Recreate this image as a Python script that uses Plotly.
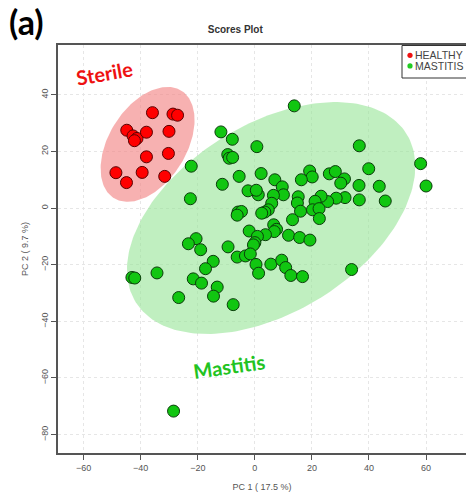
import numpy as np
import plotly.graph_objects as go

# ---- data (PC scores) ----
healthy_pc1 = [-35.9, -28.7, -27.1, -44.9, -42.7, -41.3, -42.2, -38.0, -30.1, -38.0,
               -30.3, -48.7, -39.5, -31.6, -45.0]
healthy_pc2 = [33.7, 33.2, 32.8, 27.5, 25.5, 24.6, 23.8, 26.8, 27.1, 18.1,
               19.3, 12.5, 12.6, 11.2, 9.0]

mastitis_pc1 = [13.8, -11.9, -7.9, 0.7, -9.5, -9.0, -7.8, 36.6, 58.1, 60.0,
                -22.3, 39.9, -5.5, 2.2, -11.4, 7.0, 19.2, 20.1, 16.3, 26.1,
                28.2, 31.4, 30.1, 36.5, 43.6, 45.7, 36.6, 31.6, 28.5, 25.5,
                23.2, 21.1, 15.2, 14.9, 9.6, 10.0, 6.5, 5.9, -2.4, 1.2,
                0.5, -22.6, 4.7, 3.5, 2.4, -5.9, -4.7, -6.2, 16.0, 20.2,
                22.5, 13.2, 22.6, 6.6, 7.6, 6.8, -2.0, 3.7, 0.9, 0.0,
                -0.5, 11.8, 15.7, 19.3, -20.6, -23.3, -9.4, -19.0, -6.2, -3.3,
                -1.6, 0.4, 1.3, 5.6, 9.4, 10.8, 12.6, 16.7, 33.9, -14.6,
                -17.3, -34.3, -43.1, -42.1, -21.6, -18.7, -13.2, -14.5, -26.7, -7.6,
                -28.5]
mastitis_pc2 = [36.1, 26.9, 24.3, 21.7, 18.9, 17.6, 17.9, 22.0, 15.7, 7.8,
                14.8, 13.9, 11.2, 12.2, 8.4, 10.0, 13.1, 11.0, 10.0, 12.1,
                12.9, 10.3, 8.8, 8.0, 7.7, 2.5, 2.9, 3.7, 3.5, 2.3,
                4.2, 2.4, 4.0, 1.8, 7.5, 4.7, 4.5, 1.7, 6.1, 4.7,
                6.3, 3.3, -0.6, -1.4, -1.8, -1.4, -1.2, -2.5, -1.1, -0.6,
                -0.2, -4.1, -3.7, -5.9, -7.5, -8.3, -8.1, -9.4, -10.0, -12.2,
                -13.0, -9.6, -10.4, -11.3, -10.8, -12.6, -13.7, -14.7, -17.3, -16.9,
                -16.2, -19.9, -23.0, -19.8, -18.4, -21.0, -23.8, -24.2, -21.7, -18.8,
                -21.4, -22.9, -24.5, -24.7, -25.0, -26.5, -27.9, -31.1, -31.6, -34.1,
                -71.7]

group_names = ["HEALTHY", "MASTITIS"]
x_ticks = [-60, -40, -20, 0, 20, 40, 60]
y_ticks = [-80, -60, -40, -20, 0, 20, 40]

RED = "#ff0000"
GREEN = "#11c611"
LEGEND_COLORS = ["#ee1111", "#22cc22"]


def conf_ellipse(xs, ys, level_chi2=5.991, n=200):
    xs = np.asarray(xs, float)
    ys = np.asarray(ys, float)
    cov = np.cov(xs, ys)
    vals, vecs = np.linalg.eigh(cov)
    t = np.linspace(0, 2 * np.pi, n)
    circ = np.vstack([np.cos(t), np.sin(t)])
    pts = vecs @ (np.sqrt(vals * level_chi2)[:, None] * circ)
    return pts[0] + xs.mean(), pts[1] + ys.mean()


fig = go.Figure()

ex, ey = conf_ellipse(healthy_pc1, healthy_pc2)
fig.add_trace(go.Scatter(x=ex, y=ey, mode="lines", fill="toself",
                         fillcolor="rgba(243,135,135,0.65)", line=dict(width=0),
                         hoverinfo="skip", showlegend=False))
ex, ey = conf_ellipse(mastitis_pc1, mastitis_pc2)
fig.add_trace(go.Scatter(x=ex, y=ey, mode="lines", fill="toself",
                         fillcolor="rgba(150,228,150,0.6)", line=dict(width=0),
                         hoverinfo="skip", showlegend=False))

fig.add_trace(go.Scatter(x=healthy_pc1, y=healthy_pc2, mode="markers",
                         marker=dict(size=12, color=RED, line=dict(color="#5a0000", width=1)),
                         showlegend=False, name=group_names[0]))
fig.add_trace(go.Scatter(x=mastitis_pc1, y=mastitis_pc2, mode="markers",
                         marker=dict(size=12, color=GREEN, line=dict(color="#0b3d0b", width=1)),
                         showlegend=False, name=group_names[1]))

# ---- plot geometry helpers (pixel -> paper) ----
L, T, B, W, H = 58, 45, 46, 466, 499
PW, PH = W - L, H - T - B


def px(xpix):
    return (xpix - L) / PW


def py(ypix):
    return (H - B - ypix) / PH


font_main = "Liberation Sans, Arial, sans-serif"
axis_font = dict(family=font_main, size=9, color="#555555")

shapes = [
    dict(type="rect", xref="paper", yref="paper", x0=px(402), x1=px(480),
         y0=py(78), y1=py(45.5), line=dict(color="#333333", width=1),
         fillcolor="white", layer="above"),
]
annotations = [
    dict(text="<b>(a)</b>", xref="paper", yref="paper", x=px(7), y=py(22),
         xanchor="left", yanchor="middle", showarrow=False,
         font=dict(family="Lato, Open Sans, sans-serif", size=34, color="black")),
    dict(text="<b>Sterile</b>", xref="x", yref="y", x=-52.6, y=47.8,
         showarrow=False, textangle=-10,
         font=dict(family="Lato, Open Sans, sans-serif", size=20, color="#ee1111")),
    dict(text="<b>Mastitis</b>", xref="x", yref="y", x=-8.9, y=-55.6,
         showarrow=False, textangle=-8,
         font=dict(family="Lato, Open Sans, sans-serif", size=20, color="#22c322")),
]
for i, (name, col) in enumerate(zip(group_names, LEGEND_COLORS)):
    yc = 55.3 + i * 10.6
    shapes.append(dict(type="circle", xref="paper", yref="paper",
                       xsizemode="pixel", ysizemode="pixel",
                       xanchor=px(410), yanchor=py(yc),
                       x0=-2.6, x1=2.6, y0=-2.6, y1=2.6,
                       fillcolor=col, line=dict(width=0), layer="above"))
    annotations.append(dict(text=name, xref="paper", yref="paper", x=px(413), y=py(yc),
                            xanchor="left", yanchor="middle", showarrow=False,
                            font=dict(family=font_main, size=10.5, color="#444444")))

fig.update_layout(
    width=W, height=H,
    margin=dict(l=L, r=0, t=T, b=B, autoexpand=False),
    paper_bgcolor="white", plot_bgcolor="white",
    showlegend=False,
    title=dict(text="<b>Scores Plot</b>", x=px(264), xanchor="center",
               y=(H - 29) / H, yanchor="middle",
               font=dict(family=font_main, size=10, color="#333333")),
    xaxis=dict(range=[-69.0, 74.0], tickvals=x_ticks, ticks="outside", ticklen=5,
               tickcolor="#555555", showline=True, linecolor="#555555", linewidth=1.5,
               mirror=True, showgrid=True, gridcolor="#e6e6e6", griddash="dot",
               zeroline=False, tickfont=axis_font, automargin=False,
               title=dict(text="PC 1 ( 17.5 %)", font=axis_font, standoff=12)),
    yaxis=dict(range=[-86.5, 57.6], tickvals=y_ticks, ticks="outside", ticklen=5,
               tickcolor="#555555", showline=True, linecolor="#555555", linewidth=1.5,
               showgrid=True, gridcolor="#e6e6e6", griddash="dot",
               zeroline=False, tickfont=axis_font, tickangle=-90, automargin=False,
               title=dict(text="PC 2 ( 9.7 %)", font=axis_font, standoff=10)),
    shapes=shapes,
    annotations=annotations,
)

fig.write_html(
    "out.html",
    config={"displayModeBar": False},
    post_script="document.body.style.margin='0';document.body.style.overflow='hidden';",
)
